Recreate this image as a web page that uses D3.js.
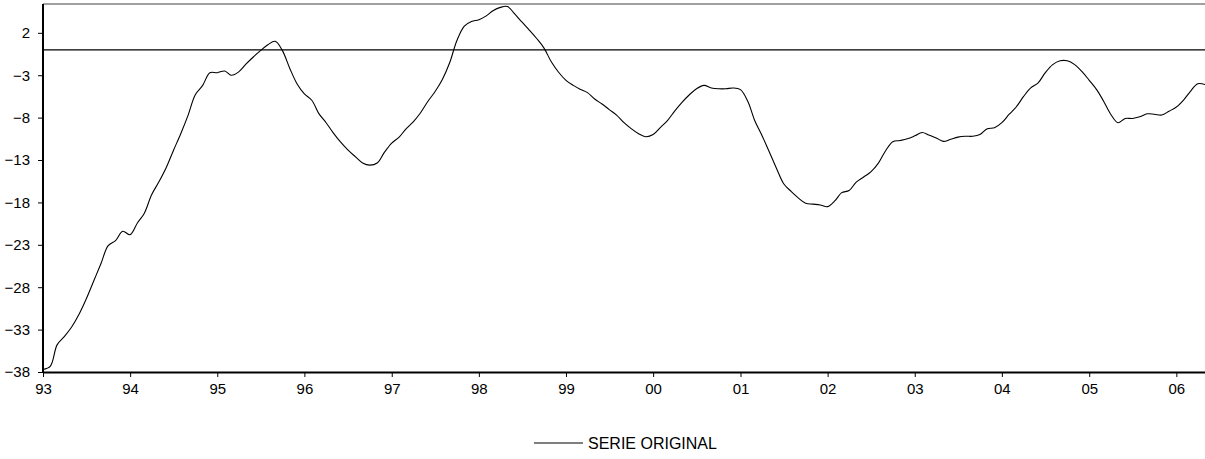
<!DOCTYPE html>
<html>
<head>
<meta charset="utf-8">
<script src="https://cdn.jsdelivr.net/npm/d3@7"></script>
<style>
  html, body { margin: 0; padding: 0; background: #fff; }
  svg { display: block; font-family: "Liberation Sans", Arial, sans-serif; }
</style>
</head>
<body>
<div id="chart"></div>
<script>
// serie mensual desde ene-1993 hasta may-2006
const startMonth = "1993-01";
const serieOriginal = [
  -37.7, -37.3, -34.8, -33.8, -32.7, -31.2, -29.4, -27.3, -25.2, -23.1, -22.5, -21.4,
  -21.8, -20.4, -19.3, -17.1, -15.6, -13.9, -11.9, -9.9, -7.7, -5.3, -4.2, -2.7,
  -2.7, -2.5, -3.0, -2.6, -1.7, -0.85, -0.1, 0.6, 1.0, -0.1, -2.2, -4.0,
  -5.2, -5.95, -7.5, -8.6, -9.8, -10.9, -11.8, -12.6, -13.35, -13.6, -13.35, -12.1,
  -11.0, -10.3, -9.35, -8.5, -7.45, -6.1, -4.95, -3.5, -1.5, 1.1, 2.8, 3.35,
  3.55, 4.0, 4.6, 5.0, 5.1, 4.2, 3.25, 2.3, 1.3, 0.2, -1.45, -2.65,
  -3.6, -4.2, -4.65, -5.05, -5.8, -6.4, -7.05, -7.7, -8.6, -9.3, -9.9, -10.25,
  -10.0, -9.15, -8.35, -7.2, -6.2, -5.3, -4.6, -4.2, -4.5, -4.6, -4.6, -4.5,
  -4.7, -6.1, -8.3, -10.1, -12.0, -14.0, -15.8, -16.7, -17.5, -18.1, -18.2, -18.3,
  -18.5, -17.8, -16.85, -16.6, -15.6, -15.0, -14.4, -13.4, -11.9, -10.85, -10.7, -10.5,
  -10.15, -9.75, -10.05, -10.4, -10.8, -10.55, -10.3, -10.2, -10.2, -10.0, -9.3, -9.2,
  -8.6, -7.6, -6.75, -5.5, -4.5, -3.9, -2.7, -1.75, -1.3, -1.3, -1.75, -2.55,
  -3.6, -4.7, -6.0, -7.6, -8.6, -8.1, -8.1, -7.9, -7.55, -7.6, -7.7, -7.25,
  -6.75, -5.9, -4.9, -4.0, -4.1
];
const yTicks = [2, -3, -8, -13, -18, -23, -28, -33, -38];
const xTickLabels = ["93", "94", "95", "96", "97", "98", "99", "00", "01", "02", "03", "04", "05", "06"];
const legendLabel = "SERIE ORIGINAL";

const width = 1205, height = 459;
const m = { left: 43, right: 1205, top: 4, bottom: 372 };

const parseMonth = d3.timeParse("%Y-%m");
const t0 = parseMonth(startMonth);
const data = serieOriginal.map((v, i) => ({ date: d3.timeMonth.offset(t0, i), value: v }));

const svg = d3.select("#chart").append("svg")
  .attr("width", width)
  .attr("height", height);

const x = d3.scaleTime()
  .domain([t0, data[data.length - 1].date])
  .range([m.left, m.right]);

const y = d3.scaleLinear()
  .domain([-38, 5.4])
  .range([m.bottom, m.top]);

// borde superior
svg.append("line")
  .attr("x1", m.left).attr("x2", m.right)
  .attr("y1", m.top).attr("y2", m.top)
  .attr("stroke", "#808080")
  .attr("stroke-width", 1.5);

// linea del cero
svg.append("line")
  .attr("x1", m.left).attr("x2", m.right)
  .attr("y1", y(0)).attr("y2", y(0))
  .attr("stroke", "#000")
  .attr("stroke-width", 1.3);

// serie
const line = d3.line()
  .x(d => x(d.date))
  .y(d => y(d.value))
  .curve(d3.curveCatmullRom.alpha(0.5));

svg.append("path")
  .datum(data)
  .attr("fill", "none")
  .attr("stroke", "#000")
  .attr("stroke-width", 1.1)
  .attr("d", line);

// eje y
const yAxis = svg.append("g")
  .attr("transform", `translate(${m.left},0)`)
  .call(d3.axisLeft(y).tickValues(yTicks).tickSize(5).tickSizeOuter(0).tickPadding(8));
yAxis.select(".domain").attr("stroke", "#000").attr("stroke-width", 2)
  .attr("d", `M0,${m.top}V${m.bottom}`);
yAxis.selectAll("text").attr("font-size", 15).attr("fill", "#000")
  .attr("font-family", "Liberation Sans, Arial, sans-serif");

// eje x
const years = d3.timeYear.range(t0, d3.timeMonth.offset(data[data.length - 1].date, 1));
const xAxis = svg.append("g")
  .attr("transform", `translate(0,${m.bottom})`)
  .call(d3.axisBottom(x).tickValues(years).tickSize(5).tickSizeOuter(0).tickPadding(6)
    .tickFormat((d, i) => xTickLabels[i]));
xAxis.select(".domain").attr("stroke", "#000").attr("stroke-width", 2);
xAxis.selectAll("text").attr("font-size", 15).attr("fill", "#000")
  .attr("font-family", "Liberation Sans, Arial, sans-serif");

// leyenda
const legend = svg.append("g").attr("transform", "translate(534,443)");
legend.append("line")
  .attr("x1", 0).attr("x2", 49)
  .attr("y1", 0).attr("y2", 0)
  .attr("stroke", "#000").attr("stroke-width", 1.2);
legend.append("text")
  .attr("x", 54).attr("y", 0).attr("dy", "0.36em")
  .attr("font-size", 16)
  .attr("font-family", "Liberation Sans, Arial, sans-serif")
  .text(legendLabel);
</script>
</body>
</html>
